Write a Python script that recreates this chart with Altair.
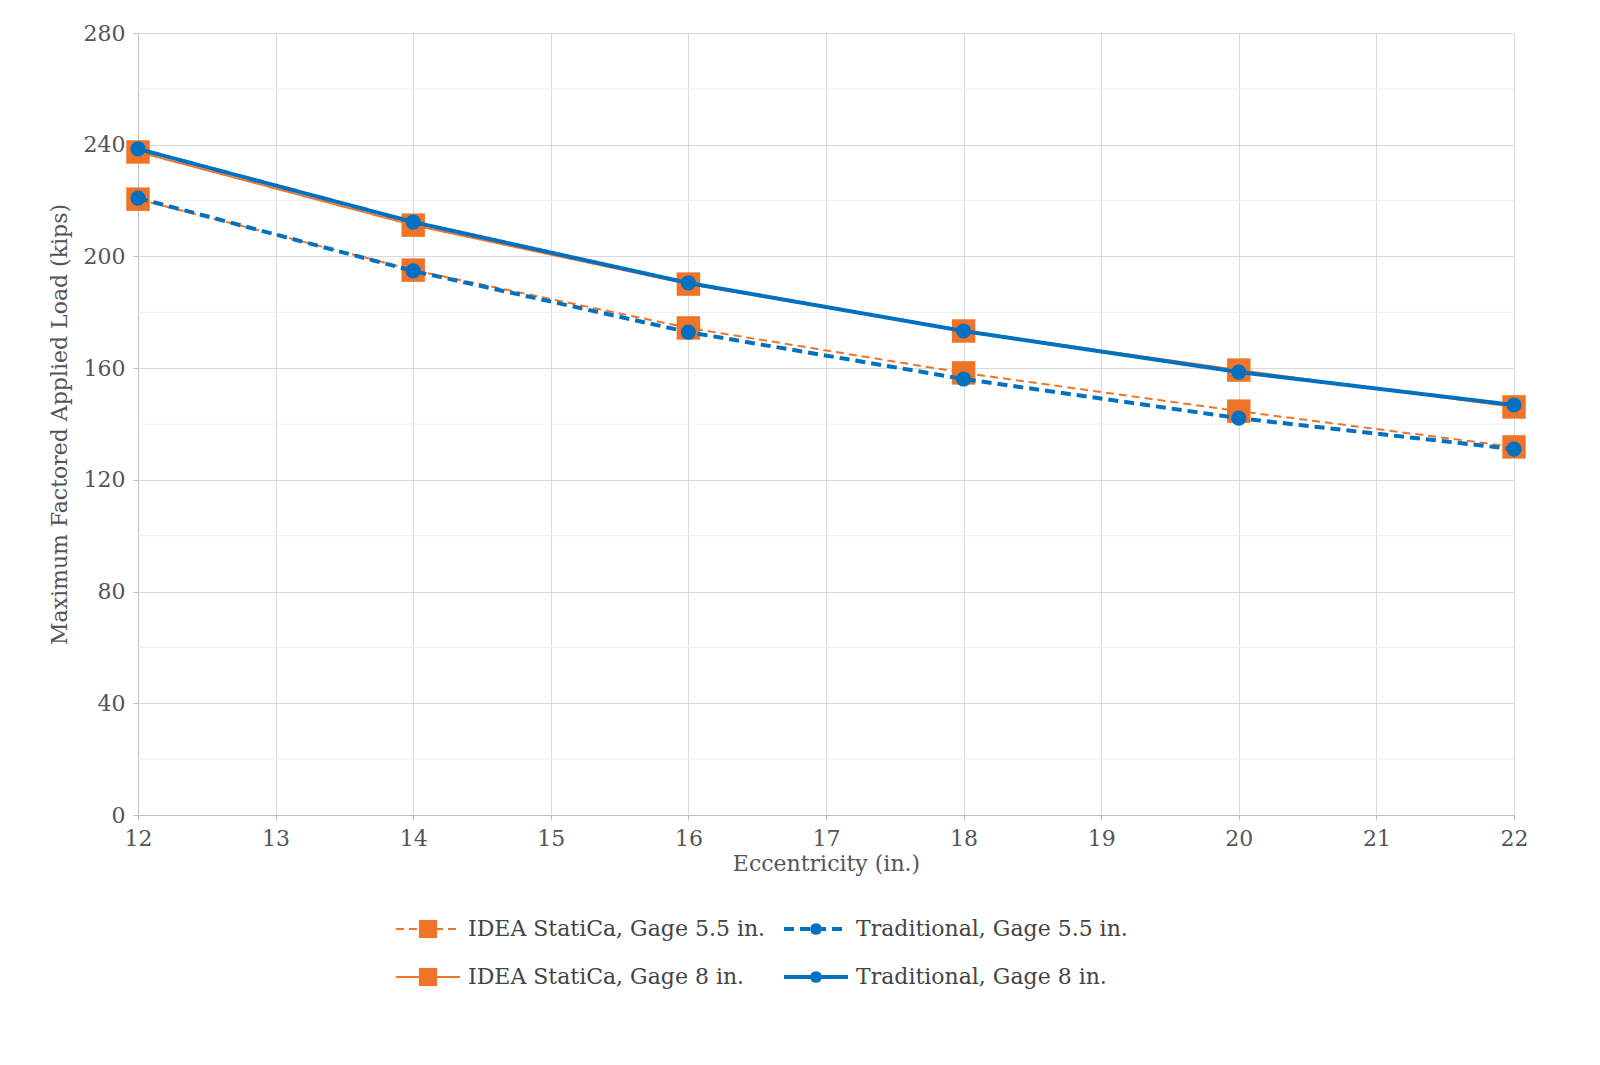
import altair as alt
import pandas as pd

ecc = [12, 14, 16, 18, 20, 22]
series = ["IDEA StatiCa, Gage 5.5 in.", "Traditional, Gage 5.5 in.",
          "IDEA StatiCa, Gage 8 in.", "Traditional, Gage 8 in."]
idea_55 = [220.5, 195.1, 174.4, 158.3, 144.6, 131.8]
trad_55 = [220.9, 194.8, 172.9, 156.1, 142.1, 131.0]
idea_8 = [237.4, 211.2, 190.1, 173.3, 159.3, 146.1]
trad_8 = [238.5, 212.3, 190.5, 173.3, 158.6, 146.8]
minor_y = [20, 60, 100, 140, 180, 220, 260]

orange, blue = "#F07427", "#0070C0"
styles = {
    series[0]: dict(color=orange, dash=[8, 5], width=2, shape="square", size=550),
    series[1]: dict(color=blue, dash=[10, 6], width=4, shape="circle", size=230),
    series[2]: dict(color=orange, dash=[1, 0], width=2, shape="square", size=550),
    series[3]: dict(color=blue, dash=[1, 0], width=4, shape="circle", size=230),
}
values = dict(zip(series, [idea_55, trad_55, idea_8, trad_8]))

x = alt.X("ecc:Q", title="Eccentricity (in.)",
          scale=alt.Scale(domain=[12, 22], nice=False),
          axis=alt.Axis(values=list(range(12, 23)), format="d", labelFlush=False))
y = alt.Y("load:Q", title="Maximum Factored Applied Load (kips)",
          scale=alt.Scale(domain=[0, 280], nice=False),
          axis=alt.Axis(values=list(range(0, 281, 40)), titlePadding=12))

layers = [alt.Chart(pd.DataFrame({"load": minor_y})).mark_rule(color="#eeeeee").encode(y=y)]
for name in series:
    s = styles[name]
    d = pd.DataFrame({"ecc": ecc, "load": values[name]})
    base = alt.Chart(d).encode(x=x, y=y)
    layers.append(base.mark_line(color=s["color"], strokeDash=s["dash"], strokeWidth=s["width"]))
    layers.append(base.mark_point(filled=True, opacity=1, color=s["color"], shape=s["shape"], size=s["size"]))
main = alt.layer(*layers).properties(width=1376, height=782)

# legend drawn as its own small panel, 2 x 2 entries
leg_x = [258, 646, 258, 646]
leg_y = [55, 55, 103, 103]
lx = alt.X("px:Q", scale=alt.Scale(domain=[0, 1376]), axis=None)
ly = alt.Y("py:Q", scale=alt.Scale(domain=[0, 130], reverse=True), axis=None)
leg_layers = []
for name, px, py in zip(series, leg_x, leg_y):
    s = styles[name]
    d = pd.DataFrame({"px": [px], "px2": [px + 64], "pm": [px + 32], "py": [py], "pt": [px + 72], "label": [name]})
    leg_layers.append(alt.Chart(d).mark_rule(color=s["color"], strokeDash=s["dash"], strokeWidth=s["width"])
                      .encode(x=lx, x2="px2:Q", y=ly))
    leg_layers.append(alt.Chart(d).mark_point(filled=True, opacity=1, color=s["color"], shape=s["shape"],
                                              size=s["size"] * 0.6).encode(x=alt.X("pm:Q", scale=alt.Scale(domain=[0, 1376]), axis=None), y=ly))
    leg_layers.append(alt.Chart(d).mark_text(align="left", baseline="middle", font="DejaVu Serif", fontSize=22,
                                             color="#444444").encode(x=alt.X("pt:Q", scale=alt.Scale(domain=[0, 1376]), axis=None), y=ly, text="label:N"))
legend = alt.layer(*leg_layers).properties(width=1376, height=130)

chart = alt.vconcat(main, legend, spacing=0).configure_axis(
    labelFont="DejaVu Serif", titleFont="DejaVu Serif", labelFontSize=22, titleFontSize=22,
    labelColor="#555555", titleColor="#555555", titleFontWeight="normal",
    gridColor="#d9d9d9", domainColor="#bfbfbf", tickColor="#bfbfbf", labelPadding=8
).configure_view(stroke=None).properties(padding={"left": 40, "right": 30, "top": 14, "bottom": 10})

chart.save("out.html", embed_options={"renderer": "svg", "actions": False})
